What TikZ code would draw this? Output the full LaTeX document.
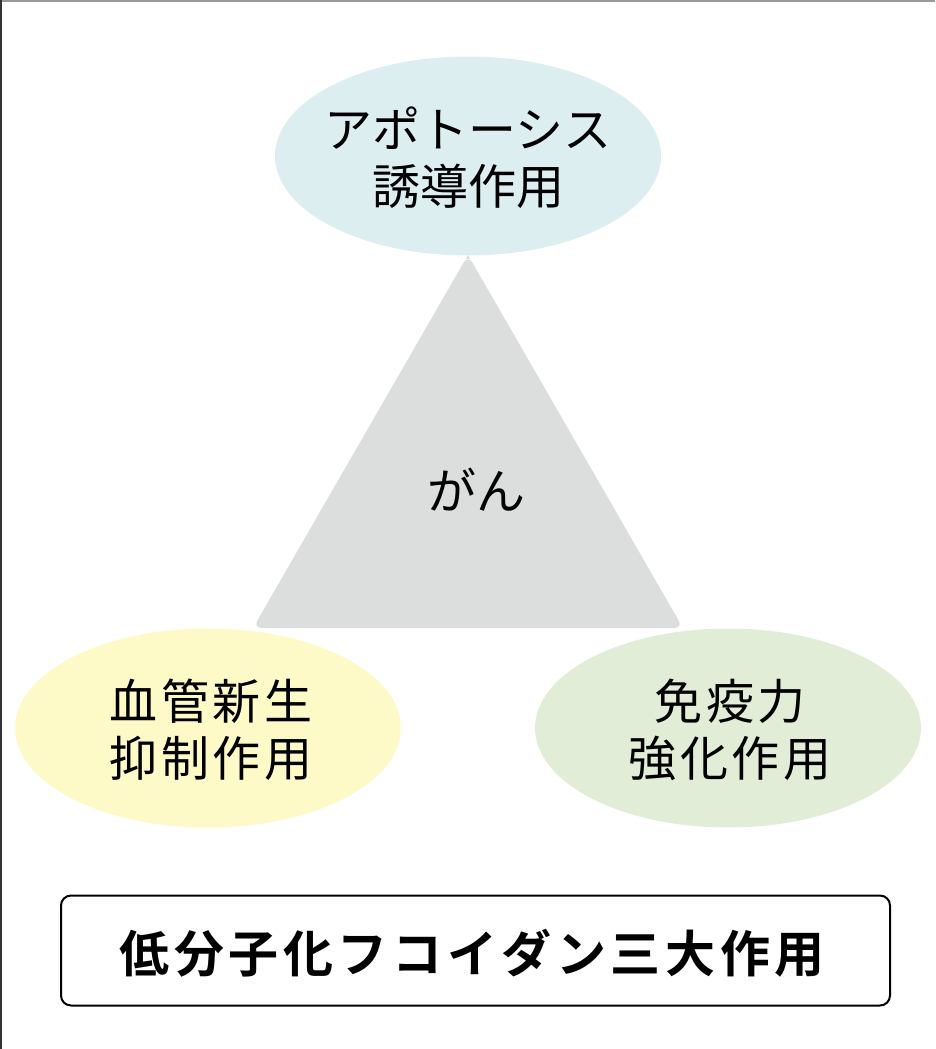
\documentclass[tikz,border=0pt]{standalone}
\usepackage{fontspec}
\newfontfamily\jp{Noto Sans CJK JP}
\newfontfamily\jps[LetterSpace=8]{Noto Sans CJK JP}
\newfontfamily\jpb{Noto Sans CJK JP Bold}
\newcommand\tk{\kern4.6pt}
\definecolor{topc}{HTML}{DDEEF1}
\definecolor{leftc}{HTML}{FEFAC8}
\definecolor{rightc}{HTML}{E1EDD6}
\definecolor{tric}{HTML}{DCDDDD}
\tikzset{
  blob/.style={ellipse, minimum width=386pt, minimum height=199pt, inner sep=0pt, align=center},
  blobtext/.style={font=\jps\fontsize{48}{57}\selectfont},
}
\usetikzlibrary{shapes.geometric}
\begin{document}
\begin{tikzpicture}[x=1pt,y=-1pt]
\useasboundingbox (0,0) rectangle (935,1049);
\fill[white] (0,0) rectangle (935,1049);
\draw[gray!80, line width=1.5pt] (0,1) -- (935,1);
\draw[black!80, line width=2pt] (1,0) -- (1,1049);
% triangle
\coordinate (apex) at (468,255);
\coordinate (bl) at (253,628);
\coordinate (br) at (683,628);
\fill[tric, rounded corners=9pt] (apex) -- (br) -- (bl) -- cycle;
\fill[tric] (468,255) -- (470,259) -- (466,259) -- cycle;
\node[font=\jp\fontsize{49}{57}\selectfont] (gan) at (476,490) {がん};
% ellipses
\node[blob, fill=topc] (top) at (468,156) {};
\node[blob, fill=leftc] (left) at (208,728) {};
\node[blob, fill=rightc] (right) at (728,728) {};
\node[align=center, font=\jp\fontsize{48}{57}\selectfont] (toptext) at (468,158) {アポトーシス\\誘導作用};
\node[align=center, blobtext] (lefttext) at (211,730) {血管新生\\抑制作用};
\node[align=center, blobtext] (righttext) at (730,730) {免疫力\\強化作用};
% title box
\node[draw=black, line width=2pt, rounded corners=10pt, minimum width=829pt, minimum height=110pt,
  inner sep=0pt] (title) at (475.5,950.5) {};
\node[font=\jpb\fontsize{50}{56}\selectfont] (titletext) at (472,953) {低\tk 分\tk 子\tk 化\tk フ\tk コ\tk イ\tk ダ\tk ン\tk 三\tk 大\tk 作\tk 用};
\end{tikzpicture}
\end{document}
